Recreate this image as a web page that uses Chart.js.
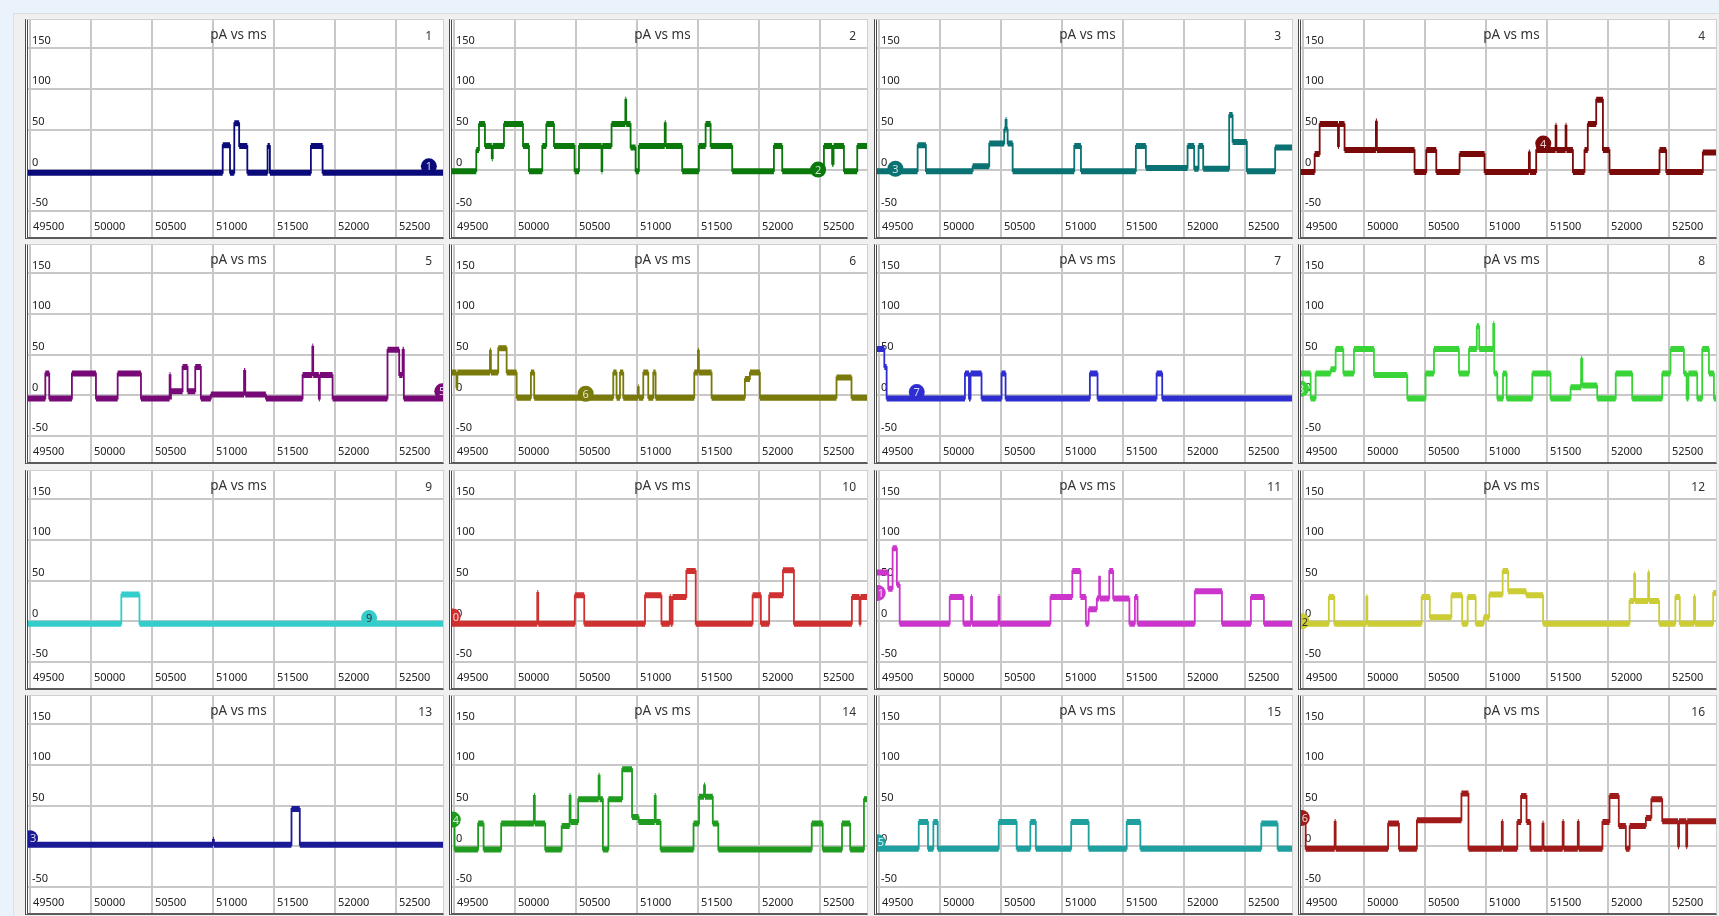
<!DOCTYPE html>
<html>
<head>
<meta charset="utf-8">
<script src="https://cdn.jsdelivr.net/npm/chart.js@4.4.1/dist/chart.umd.min.js"></script>
<style>
  html, body { margin: 0; padding: 0; }
  body { width: 1719px; height: 916px; background: #eaf2fb; overflow: hidden; position: relative; }
  #board { position: absolute; left: 13px; top: 13px; right: 0; bottom: 0; background: #f0f0f0; border-top: 1px solid #dcdcdc; border-left: 1px solid #e0e0e0; }
  .panel { position: absolute; background: #fff; border-left: 3px double #4a4a4a; border-top: 1px solid #d0d0d0; border-right: 1px solid #d0d0d0; border-bottom: 2px solid #5c5c5c; }
  .panel canvas { display: block; }
</style>
</head>
<body>
<div id="board"></div>
<script>
const titleText = 'pA vs ms';
const xTicks = [49500, 50000, 50500, 51000, 51500, 52000, 52500];
const yTicks = [-50, 0, 50, 100, 150];
const xMin = 49484, xMax = 52886;
const yMin = -50, yMax = 185;

// each trace: [time ms, current pA] — the level holds from that time to the next point
const trace1 = [[49484,-3],[51080,31],[51140,-3],[51175,58],[51215,30],[51282,-3],[51448,30],[51467,-3],[51803,30],[51899,-3],[52886,-3]];
const trace2 = [[49484,-1],[49683,25],[49705,57],[49754,30],[49810,15],[49818,30],[49910,57],[50066,30],[50115,-1],[50224,30],[50257,57],[50320,30],[50489,-1],[50525,30],[50710,-1],[50716,30],[50792,57],[50905,87],[50912,57],[50948,28],[50989,-1],[51016,30],[51228,58],[51236,30],[51371,-1],[51508,30],[51563,57],[51604,30],[51781,-1],[52123,30],[52191,-1],[52533,30],[52600,8],[52612,30],[52697,-1],[52806,30],[52886,30]];
const trace3 = [[49484,-1],[49817,31],[49885,-1],[50268,5],[50404,33],[50527,50],[50538,62],[50546,50],[50555,33],[50596,-1],[51101,30],[51156,-1],[51606,30],[51688,3],[52030,30],[52084,2],[52120,30],[52158,2],[52371,68],[52399,35],[52516,-1],[52748,28],[52886,28]];
const trace4 = [[49484,-2],[49596,20],[49637,57],[49787,30],[49795,57],[49841,25],[50098,60],[50106,25],[50415,-2],[50511,25],[50593,-2],[50784,20],[50989,-2],[51352,22],[51360,-2],[51412,25],[51571,55],[51578,25],[51653,55],[51660,25],[51713,-2],[51808,25],[51835,57],[51904,87],[51959,25],[52013,-2],[52423,25],[52478,-2],[52778,22],[52886,22]];
const trace5 = [[49484,-4],[49626,27],[49658,-4],[49844,27],[50041,-4],[50219,27],[50410,-4],[50645,25],[50652,-4],[50656,5],[50751,35],[50792,5],[50855,35],[50901,-4],[50983,1],[51255,30],[51265,1],[51434,-4],[51735,25],[51815,60],[51822,25],[51868,-4],[51876,25],[51981,-4],[52431,56],[52527,25],[52555,56],[52565,-4],[52886,-4]];
const trace6 = [[49484,28],[49520,10],[49528,28],[49795,55],[49803,28],[49863,58],[49932,28],[50014,-3],[50131,28],[50158,-3],[50806,28],[50833,-3],[50861,28],[50888,-3],[51008,10],[51015,-3],[51052,28],[51093,-3],[51134,28],[51153,-3],[51470,28],[51500,55],[51508,28],[51612,-3],[51885,20],[51926,28],[52008,-3],[52636,22],[52759,-3],[52886,-3]];
const trace7 = [[49484,57],[49544,35],[49563,-4],[50205,27],[50238,-4],[50251,27],[50341,-4],[50505,27],[50538,-4],[51229,27],[51292,-4],[51776,27],[51822,-4],[52886,-4]];
const trace8 = [[49484,27],[49563,-4],[49604,27],[49727,32],[49768,57],[49831,27],[49918,57],[50082,25],[50355,-4],[50505,27],[50574,57],[50779,27],[50861,57],[50925,85],[50945,57],[51060,88],[51068,27],[51093,-4],[51140,27],[51170,-4],[51380,27],[51530,-4],[51694,10],[51780,45],[51790,12],[51912,-4],[52064,27],[52199,-4],[52445,27],[52513,57],[52623,27],[52645,-4],[52660,27],[52732,-4],[52773,57],[52828,27],[52869,-4],[52886,-4]];
const trace9 = [[49484,-3],[50249,33],[50398,-3],[52886,-3]];
const trace10 = [[49484,-3],[50183,35],[50191,-3],[50491,32],[50568,-3],[51066,32],[51201,-3],[51269,30],[51277,-3],[51292,30],[51405,62],[51482,-3],[51948,32],[52016,-3],[52084,32],[52197,63],[52287,-3],[52762,30],[52825,-3],[52833,30],[52886,30]];
const trace11 = [[49484,60],[49576,40],[49612,90],[49647,45],[49670,-3],[50080,30],[50192,-3],[50255,30],[50263,-3],[50480,30],[50488,-3],[50906,30],[51085,62],[51152,30],[51196,-3],[51219,15],[51286,28],[51305,55],[51312,28],[51388,62],[51420,28],[51553,-3],[51598,30],[51620,-3],[52089,37],[52312,-3],[52549,30],[52656,-3],[52886,-3]];
const trace12 = [[49484,-3],[49712,30],[49757,-3],[50020,30],[50028,-3],[50473,30],[50540,5],[50717,32],[50805,-3],[50850,30],[50916,-3],[50982,5],[51027,33],[51137,62],[51182,37],[51330,32],[51469,-3],[52177,25],[52215,58],[52223,25],[52330,60],[52338,25],[52420,-3],[52553,30],[52589,-3],[52706,30],[52714,-3],[52863,35],[52886,35]];
const trace13 = [[49484,2],[51000,8],[51008,2],[51644,46],[51712,2],[52886,2]];
const trace14 = [[49484,30],[49505,-4],[49698,28],[49743,-4],[49887,28],[50155,62],[50163,28],[50248,-4],[50383,25],[50448,62],[50456,30],[50518,58],[50686,87],[50694,58],[50721,-4],[50766,58],[50879,95],[50960,36],[51014,30],[51146,62],[51154,30],[51194,-4],[51464,28],[51509,61],[51550,75],[51558,61],[51622,28],[51667,-4],[52433,28],[52523,-4],[52681,28],[52748,-4],[52861,58],[52886,58]];
const trace15 = [[49484,-3],[49826,30],[49902,-3],[49946,30],[49982,-3],[50482,30],[50629,-3],[50741,30],[50786,-3],[51076,30],[51219,-3],[51531,30],[51643,-3],[52634,28],[52768,-3],[52886,-3]];
const trace16 = [[49484,35],[49522,-3],[49760,30],[49768,-3],[50198,28],[50287,-3],[50434,32],[50799,65],[50857,-3],[51130,30],[51138,-3],[51257,30],[51288,62],[51333,30],[51364,-3],[51464,28],[51472,-3],[51629,30],[51637,-3],[51753,30],[51761,-3],[51955,30],[52013,62],[52089,25],[52147,-3],[52178,25],[52311,35],[52356,58],[52445,31],[52575,0],[52583,31],[52642,0],[52650,31],[52886,31]];

const traces = [trace1, trace2, trace3, trace4, trace5, trace6, trace7, trace8,
                trace9, trace10, trace11, trace12, trace13, trace14, trace15, trace16];

// numbered trace markers
const markerX = [52770, 52485, 49635, 51470, 52880, 50580, 49810, 49484, 52280, 49490, 49490, 49490, 49500, 49490, 49490, 49490];
const markerY = [5, 1, 2, 33, 5, 2, 4, 8, 4, 6, 35, 0, 10, 33, 5, 35];

const colors = ['#0a0a7a', '#0a780a', '#0a7272', '#7a0a0a', '#780a78', '#7a7a0a', '#2e2ed0', '#38d438',
                '#35cccc', '#cf3030', '#cc35cc', '#cccc35', '#1a1a96', '#1f9c1f', '#1fa0a0', '#a01a1a'];
const lightTraces = [8, 11];

const colLeft = [25, 449, 874, 1298];
const rowTop = [19, 244, 470, 695];
const gridColor = '#c8c8c8';
const tickFont = { family: 'Noto Sans', size: 11 };

function noPadding(s) {
  s.paddingLeft = 0;
  s.paddingRight = 0;
  s.paddingTop = 0;
  s.paddingBottom = 0;
}

// flat parts of a step trace, drawn wide so they read as a noisy band
function levelRuns(trace) {
  const out = [];
  for (let k = 0; k < trace.length - 1; k++) {
    out.push({ x: trace[k][0], y: trace[k][1] });
    out.push({ x: trace[k + 1][0], y: trace[k][1] });
    out.push({ x: trace[k + 1][0], y: null });
  }
  return out;
}

const panelText = {
  id: 'panelText',
  afterDatasetsDraw(chart, args, opts) {
    const { ctx, chartArea: a } = chart;
    ctx.save();
    ctx.fillStyle = '#333';
    ctx.textBaseline = 'middle';
    ctx.font = '13.5px "Noto Sans"';
    ctx.textAlign = 'center';
    ctx.fillText(titleText, (a.left + a.right) / 2 + 3, a.top + 15);
    ctx.font = '12px "Noto Sans"';
    ctx.textAlign = 'right';
    ctx.fillText(String(opts.number), a.right - 11, a.top + 17);

    const m = chart.getDatasetMeta(0).data[0];
    ctx.beginPath();
    ctx.rect(a.left, a.top, a.right - a.left, a.bottom - a.top);
    ctx.clip();
    ctx.fillStyle = opts.markerText;
    ctx.font = '11px "Noto Sans"';
    ctx.textAlign = 'center';
    ctx.fillText(String(opts.number), m.x, m.y + 1);
    ctx.restore();
  }
};

function buildPanel(i) {
  const div = document.createElement('div');
  div.className = 'panel';
  div.style.left = colLeft[i % 4] + 'px';
  div.style.top = rowTop[Math.floor(i / 4)] + 'px';
  const canvas = document.createElement('canvas');
  canvas.width = 415;
  canvas.height = 217;
  div.appendChild(canvas);
  document.body.appendChild(div);

  new Chart(canvas, {
    type: 'line',
    data: {
      datasets: [
        {
          data: [{ x: markerX[i], y: markerY[i] }],
          showLine: false,
          pointRadius: 8,
          pointBackgroundColor: colors[i],
          pointBorderWidth: 0,
          clip: 0,
          order: 0,
        },
        {
          data: levelRuns(traces[i]),
          borderColor: colors[i],
          borderWidth: 6,
          borderCapStyle: 'butt',
          spanGaps: false,
          pointRadius: 0,
          fill: false,
          clip: 0,
          order: 1,
        },
        {
          data: traces[i].map(([x, y]) => ({ x, y })),
          stepped: true,
          borderColor: colors[i],
          borderWidth: 1.8,
          pointRadius: 0,
          fill: false,
          clip: 0,
          order: 2,
        },
      ],
    },
    plugins: [panelText],
    options: {
      responsive: false,
      animation: false,
      devicePixelRatio: 1,
      events: [],
      layout: { padding: 0, autoPadding: false },
      plugins: {
        legend: { display: false },
        tooltip: { enabled: false },
        panelText: {
          number: i + 1,
          markerText: lightTraces.includes(i) ? '#333' : 'rgba(255,255,255,0.8)',
        },
      },
      scales: {
        x: {
          type: 'linear',
          min: xMin,
          max: xMax,
          afterBuildTicks: (s) => { s.ticks = xTicks.map((v) => ({ value: v })); },
          afterFit: (s) => { s.height = 26; noPadding(s); },
          grid: { color: gridColor, lineWidth: 2, drawTicks: true, tickLength: 26, tickColor: gridColor, tickWidth: 2 },
          border: { display: false },
          ticks: {
            align: 'start',
            labelOffset: 3,
            padding: -17,
            maxRotation: 0,
            autoSkip: false,
            color: '#222',
            font: tickFont,
            callback: (v) => String(v),
          },
        },
        y: {
          type: 'linear',
          min: yMin,
          max: yMax,
          afterBuildTicks: (s) => { s.ticks = yTicks.map((v) => ({ value: v })); },
          afterFit: (s) => { s.width = 0; noPadding(s); },
          grid: { color: gridColor, lineWidth: 2, drawTicks: false },
          border: { display: false },
          ticks: {
            mirror: true,
            padding: 4,
            labelOffset: -8,
            color: '#222',
            font: tickFont,
            callback: (v) => String(v),
          },
        },
      },
    },
  });
}

for (let i = 0; i < 16; i++) buildPanel(i);
</script>
</body>
</html>
